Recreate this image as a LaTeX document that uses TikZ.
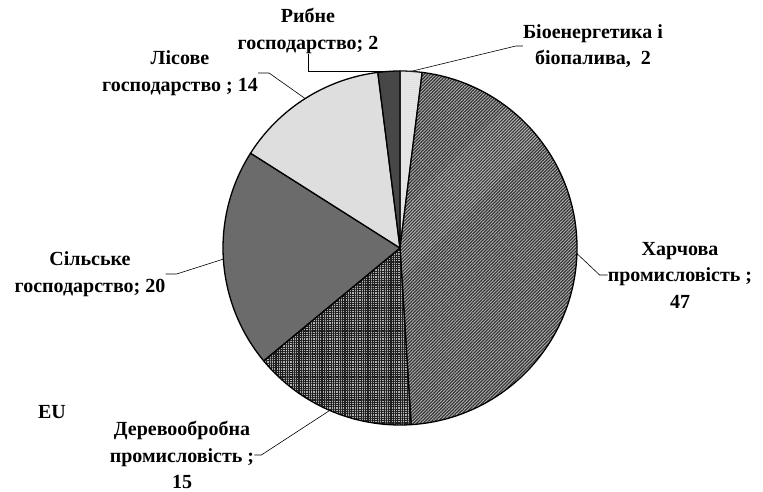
\documentclass[tikz,border=0pt]{standalone}
\usepackage{fontspec}
\setmainfont{Liberation Serif}
\usetikzlibrary{patterns.meta,calc}
\begin{document}
\begin{tikzpicture}[x=1pt,y=1pt,
  lbl/.style={font=\bfseries\fontsize{20}{26.5}\selectfont, align=center, inner sep=0pt, text=black},
  slice/.style={draw=black, line width=1.3pt, line join=round},
  leader/.style={draw=black, line width=0.6pt}]
\useasboundingbox (0,0) rectangle (763,-492);
\coordinate (C) at (400,-248);
\def\R{177}
% slices
\path[slice, fill=black!8, postaction={pattern={Dots[distance=2pt,radius=0.5pt]}, pattern color=black!25}]
  (C) -- ++(90:\R) arc[start angle=90, end angle=82.8, radius=\R] -- cycle;
\path[slice, preaction={fill=black!28}, pattern={Lines[angle=45,distance=2.3pt,line width=1.2pt]}, pattern color=black!80]
  (C) -- ++(82.8:\R) arc[start angle=82.8, end angle=-86.4, radius=\R] -- cycle;
\path[slice, preaction={fill=black!30}, pattern={Hatch[angle=0,distance=2.3pt,line width=1.1pt]}, pattern color=black!88]
  (C) -- ++(-86.4:\R) arc[start angle=-86.4, end angle=-140.4, radius=\R] -- cycle;
\path[slice, fill=black!58]
  (C) -- ++(-140.4:\R) arc[start angle=-140.4, end angle=-212.4, radius=\R] -- cycle;
\path[slice, fill=black!13]
  (C) -- ++(-212.4:\R) arc[start angle=-212.4, end angle=-262.8, radius=\R] -- cycle;
\path[slice, fill=black!72]
  (C) -- ++(-262.8:\R) arc[start angle=-262.8, end angle=-270, radius=\R] -- cycle;
% leader end points on the pie
\coordinate (pB) at ($(C)+(86.4:\R)$);
\coordinate (pH) at ($(C)+(-1.8:\R)$);
\coordinate (pD) at ($(C)+(-113.4:\R)$);
\coordinate (pS) at ($(C)+(-176.4:\R)$);
\coordinate (pL) at ($(C)+(-237.6:\R)$);
\coordinate (pR) at ($(C)+(93.6:\R)$);
% labels
\node[lbl] (bio) at (593,-46) {Біоенергетика і\\біопалива,\ \ 2};
\node[lbl] (harch) at (680,-275) {Харчова\\промисловість ;\\47};
\node[lbl] (derev) at (182,-455) {Деревообробна\\промисловість ;\\15};
\node[lbl] (silsk) at (90,-274) {Сільське\\господарство; 20};
\node[lbl] (lis) at (180,-73) {Лісове\\господарство ; 14};
\node[lbl] (ryb) at (308,-31) {Рибне\\господарство; 2};
\node[lbl] (eu) at (52,-412) {EU};
% leaders
\draw[leader] (bio.west) -- ++(-7,0) -- (pB);
\draw[leader] (harch.west) -- ++(-8,0) -- (pH);
\draw[leader] (derev.east) -- ++(7,0) -- (pD);
\draw[leader] (silsk.east) -- ++(11,0) -- (pS);
\draw[leader] (lis.east) -- ++(11,0) -- (pL);
\draw[leader] (ryb.south) |- (pR);
\end{tikzpicture}
\end{document}
